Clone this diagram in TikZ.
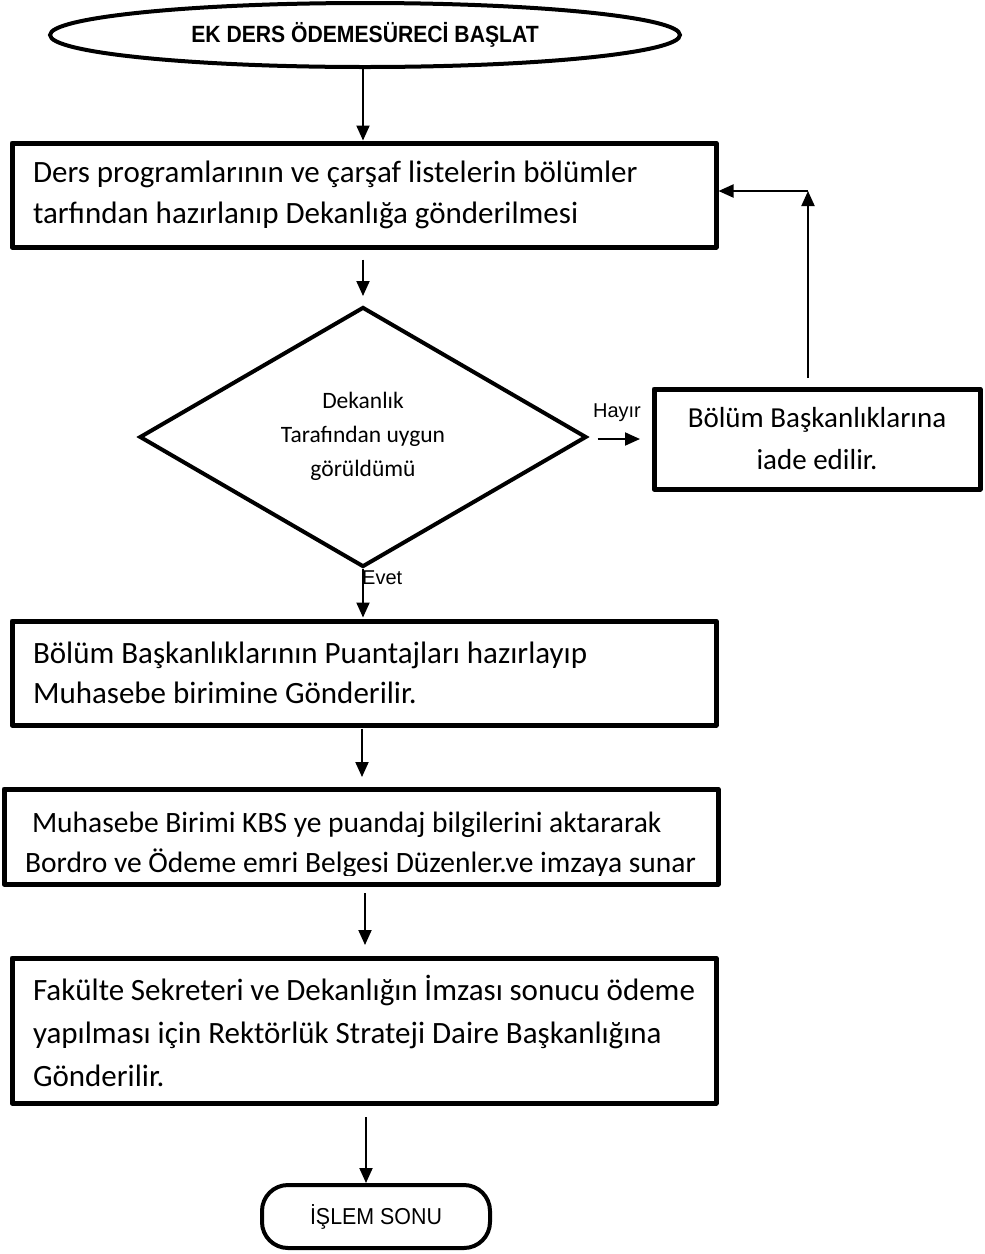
\documentclass[tikz,border=0pt]{standalone}
\usepackage{fontspec}
\setmainfont{Carlito}
\newfontfamily\arialfont{Liberation Sans}
\usetikzlibrary{shapes.geometric,arrows.meta,calc}

\begin{document}
\begin{tikzpicture}[x=1pt,y=-1pt,
  stepbox/.style={draw, line width=5pt, line join=round, inner sep=0pt,
    inner xsep=21pt, align=flush left, font=\fontsize{31}{41}\selectfont},
  arr/.style={line width=2pt, -{Triangle[width=13pt,length=15pt]}},
  lbl/.style={inner sep=0pt, font=\arialfont\fontsize{20}{24}\selectfont},
]
\useasboundingbox (0,0) rectangle (985,1254);

% start terminal
\node[ellipse, draw, line width=4pt, minimum width=630pt, minimum height=64pt,
  inner sep=0pt, font=\arialfont\bfseries\fontsize{23.5}{26}\selectfont]
  (s) at (365,35) {\scalebox{0.9}[1]{EK DERS ÖDEMESÜRECİ BAŞLAT}};

% step 1
\node[stepbox, minimum width=704pt, minimum height=104pt, text width=662pt]
  (b1) at (364,195)
  {Ders programlarının ve çarşaf listelerin bölümler\\
   tarfından hazırlanıp Dekanlığa gönderilmesi};

% decision
\node[diamond, draw, line width=4pt, minimum width=447pt, minimum height=260pt,
  inner sep=0pt] (d) at (363,437) {};
\node[inner sep=0pt, align=center, font=\fontsize{23.5}{34}\selectfont]
  (dt) at (363,436) {Dekanlık\\Tarafından uygun\\görüldümü};

% return box
\node[stepbox, align=center, inner xsep=0pt, minimum width=326pt,
  minimum height=100pt, font=\fontsize{29}{42}\selectfont]
  (b5) at (817,439) {Bölüm Başkanlıklarına\\iade edilir.};

% step 2
\node[stepbox, minimum width=704pt, minimum height=104pt, text width=662pt,
  font=\fontsize{31}{40}\selectfont]
  (b2) at (364,673)
  {Bölüm Başkanlıklarının Puantajları hazırlayıp\\
   Muhasebe birimine Gönderilir.};

% step 3 (text cut off at the lower edge)
\node[stepbox, minimum width=714pt, minimum height=95pt] (b3) at (361,836.5) {};
\begin{scope}
  \clip (4,791) rectangle (718,875);
  \node[stepbox, draw=none, text width=672pt, minimum width=714pt,
    font=\fontsize{29.5}{40}\selectfont]
    (b3t) at (361,845)
    {\mbox{\hspace*{7pt}Muhasebe Birimi KBS ye puandaj bilgilerini aktararak}\\
     \mbox{Bordro ve Ödeme emri Belgesi Düzenler.ve imzaya sunar}};
\end{scope}

% step 4
\node[stepbox, minimum width=704pt, minimum height=145pt, text width=662pt,
  font=\fontsize{31}{43}\selectfont]
  (b4) at (364,1030.5)
  {Fakülte Sekreteri ve Dekanlığın İmzası sonucu ödeme\\
   yapılması için Rektörlük Strateji Daire Başkanlığına\\
   Gönderilir.};

% end terminal
\node[draw, line width=4pt, rounded corners=26pt, minimum width=228pt,
  minimum height=63pt, inner sep=0pt,
  font=\arialfont\fontsize{23}{26}\selectfont]
  (t) at (376,1216.5) {\scalebox{0.93}[1]{İŞLEM SONU}};

% labels
\node[lbl, anchor=west] (ev) at (362,578) {Evet};
\node[lbl] (hy) at (617,413) {Hayır};

% connectors
\draw[arr] ([xshift=-2pt]s.south) -- ([xshift=-2pt]s.south |- b1.north);
\draw[arr, shorten <=10pt, shorten >=9pt] ([xshift=-1pt]b1.south)
  -- ([xshift=-1pt]b1.south |- d.north);
\draw[arr, shorten >=1pt] (d.south) -- (d.south |- b2.north);
\draw[arr, shorten <=1pt, shorten >=9.5pt] ([xshift=-2pt]b2.south)
  -- ([xshift=-2pt]b2.south |- b3.north);
\draw[arr, shorten <=6.5pt, shorten >=10.5pt] ([xshift=4pt]b3.south)
  -- ([xshift=4pt]b3.south |- b4.north);
\draw[arr, shorten <=11.5pt] ([xshift=2pt]b4.south)
  -- ([xshift=2pt]b4.south |- t.north);
\draw[arr, shorten <=9pt, shorten >=11.5pt] ([yshift=-2pt]d.east)
  -- ([yshift=-2pt]d.east -| b5.west);

\coordinate (r) at (808,191);
\draw[arr, shorten <=8.5pt] ([xshift=-9pt]b5.north) -- (r);
\draw[arr] (r) -- (r -| b1.east);
\end{tikzpicture}
\end{document}
